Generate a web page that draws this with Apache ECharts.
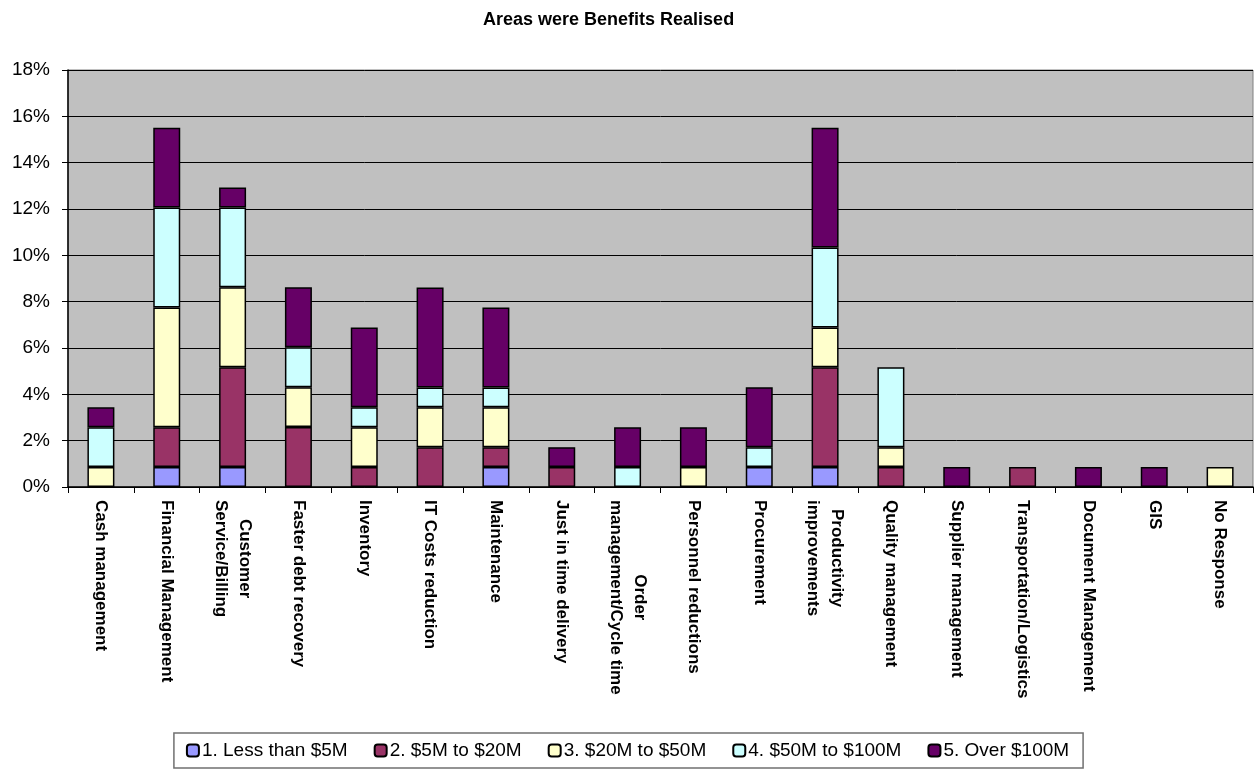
<!DOCTYPE html>
<html>
<head>
<meta charset="utf-8">
<script src="https://cdn.jsdelivr.net/npm/echarts@6/dist/echarts.min.js"></script>
<style>
  html, body { margin: 0; padding: 0; background: #fff; }
  #chart { width: 1255px; height: 776px; }
</style>
</head>
<body>
<div id="chart"></div>
<script>
// categories (x axis)
const areas = ['Cash management', 'Financial Management', 'Customer\nService/Billing', 'Faster debt recovery',
    'Inventory', 'IT Costs reduction', 'Maintenance', 'Just in time delivery', 'Order\nmanagement/Cycle time',
    'Personnel reductions', 'Procurement', 'Productivity\nimprovements', 'Quality management',
    'Supplier management', 'Transportation/Logistics', 'Document Management', 'GIS', 'No Response'];

// % of responses per benefit band
const lessThan5M = [0, 0.86, 0.86, 0, 0, 0, 0.86, 0, 0, 0, 0.86, 0.86, 0, 0, 0, 0, 0, 0];
const from5To20M = [0, 1.72, 4.31, 2.59, 0.86, 1.72, 0.86, 0.86, 0, 0, 0, 4.31, 0.86, 0, 0.86, 0, 0, 0];
const from20To50M = [0.86, 5.17, 3.45, 1.72, 1.72, 1.72, 1.72, 0, 0, 0.86, 0, 1.72, 0.86, 0, 0, 0, 0, 0.86];
const from50To100M = [1.72, 4.31, 3.45, 1.72, 0.86, 0.86, 0.86, 0, 0.86, 0, 0.86, 3.45, 3.45, 0, 0, 0, 0, 0];
const over100M = [0.86, 3.45, 0.86, 2.59, 3.45, 4.31, 3.45, 0.86, 1.72, 1.72, 2.59, 5.17, 0, 0.86, 0, 0.86, 0.86, 0];

const seriesNames = ['1. Less than $5M', '2. $5M to $20M', '3. $20M to $50M', '4. $50M to $100M', '5. Over $100M'];
const seriesData = [lessThan5M, from5To20M, from20To50M, from50To100M, over100M];
const colors = ['#9999FF', '#993366', '#FFFFCC', '#CCFFFF', '#660066'];

const font = 'Arial, "Liberation Sans", sans-serif';

let myChart = echarts.init(document.getElementById('chart'));

let option = {
    animation: false,
    title: {
        text: 'Areas were Benefits Realised',
        left: 478,
        top: 6,
        textStyle: {fontFamily: font, fontSize: 18, fontWeight: 'bold', color: '#000'}
    },
    legend: {
        left: 'center',
        top: 733,
        padding: [8, 14, 8, 12],
        borderColor: '#707070',
        borderWidth: 1.5,
        itemWidth: 12,
        itemHeight: 12,
        itemGap: 26,
        textStyle: {fontFamily: font, fontSize: 19, color: '#000', padding: [0, 0, 0, -2]},
        data: seriesNames
    },
    grid: {
        left: 68,
        right: 2,
        top: 70,
        bottom: 289,
        show: true,
        backgroundColor: '#C0C0C0',
        borderColor: '#808080',
        borderWidth: 1
    },
    xAxis: {
        type: 'category',
        data: areas,
        axisLine: {lineStyle: {color: '#000', width: 1.5}},
        axisTick: {show: true, length: 6, lineStyle: {color: '#000'}},
        axisLabel: {
            rotate: -90,
            margin: 13,
            interval: 0,
            formatter: function (v) {
                return v.split('\n').map(l => '{c|' + l + '}').join('\n');
            },
            rich: {
                c: {align: 'center', fontFamily: font, fontSize: 17, fontWeight: 'bold', color: '#000', lineHeight: 24}
            }
        }
    },
    yAxis: {
        type: 'value',
        min: 0,
        max: 18,
        interval: 2,
        axisLine: {show: true, lineStyle: {color: '#000', width: 1.5}},
        axisTick: {show: true, length: 6, lineStyle: {color: '#000'}},
        axisLabel: {
            formatter: '{value}%',
            margin: 18,
            fontFamily: font,
            fontSize: 19,
            color: '#000'
        },
        splitLine: {lineStyle: {color: '#000', width: 1}}
    },
    series: seriesData.map((d, i) => ({
        name: seriesNames[i],
        type: 'bar',
        stack: 'total',
        barWidth: '41%',
        data: d.map(v => v === 0 ? null : v),
        itemStyle: {color: colors[i], borderColor: '#000', borderWidth: 1.5}
    }))
};

myChart.setOption(option, true);
</script>
</body>
</html>
